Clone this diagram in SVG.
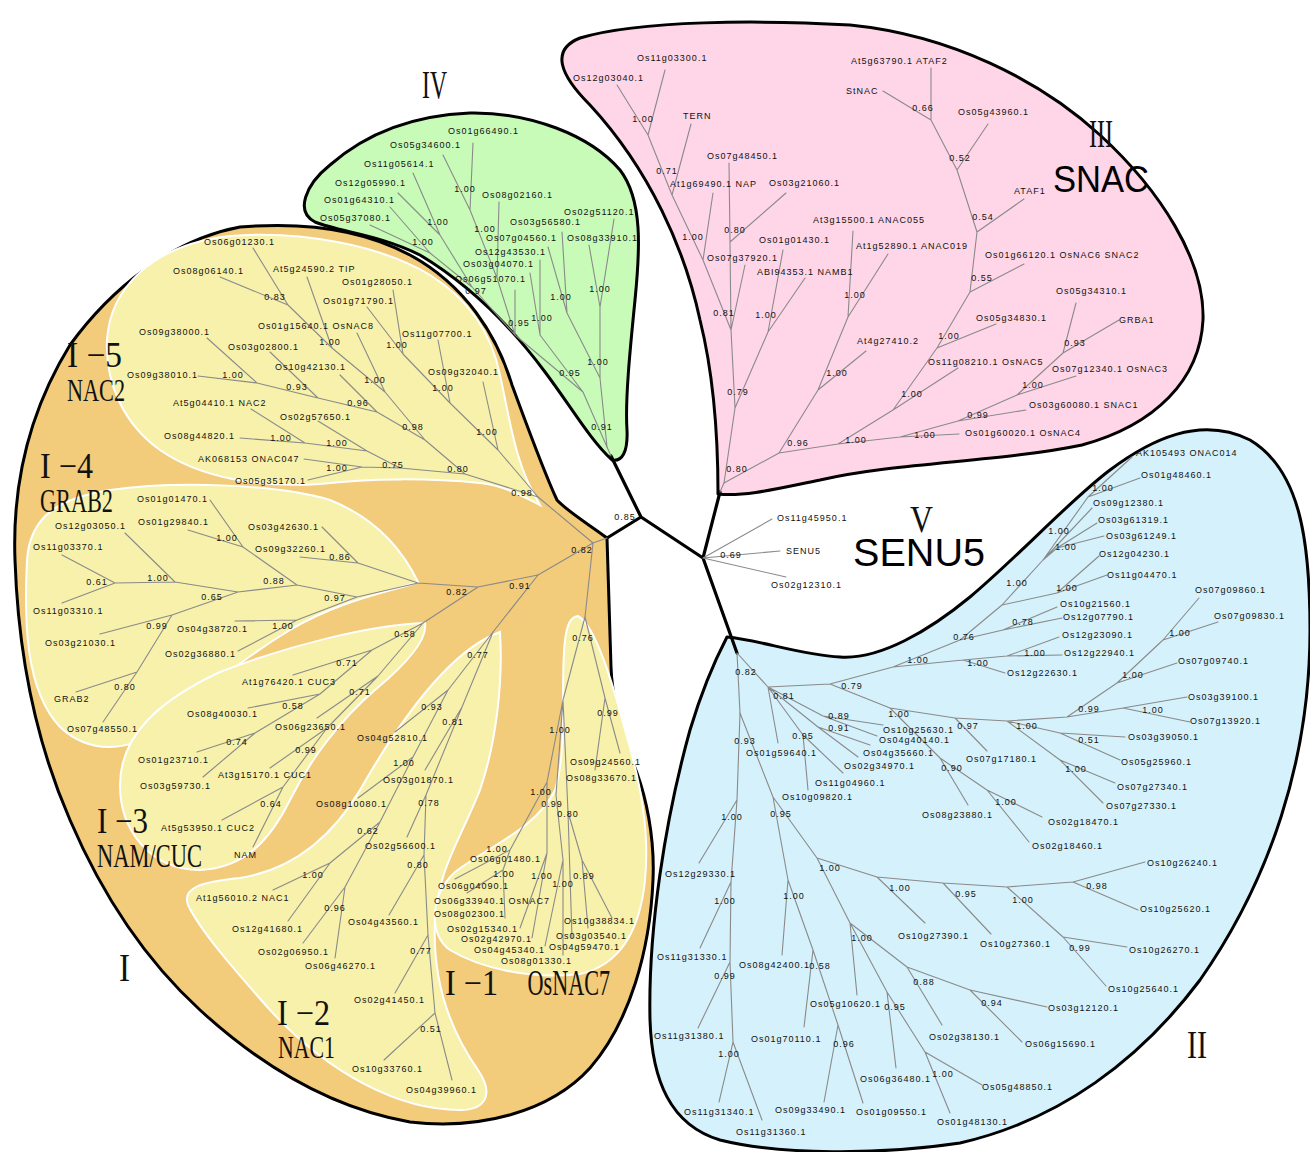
<svg xmlns="http://www.w3.org/2000/svg" width="1310" height="1152" viewBox="0 0 1310 1152">
<style>
.blob{stroke:#000;stroke-width:3;stroke-linejoin:round}
.sub{fill:#F7F1AB;stroke:#fff;stroke-width:2}
.bb{stroke:#000;stroke-width:3.2;stroke-linecap:round;fill:none}
.br{stroke:#8a8a8a;stroke-width:1.1;fill:none;stroke-linecap:round}
text{font-family:"Liberation Sans",Arial,sans-serif}
.lf{font-size:9px;letter-spacing:1px;fill:#111}
.bs{font-size:9px;letter-spacing:1px;fill:#111;text-anchor:middle}
.cl{font-family:"Liberation Serif","Times New Roman",serif;fill:#111}
.big{fill:#000}
</style>
<rect width="1310" height="1152" fill="#fff"/>
<g id="regions">
<path id="region-I" class="blob" fill="#F2CB7B" d="M607,538 C590,525 568,512 557,500 C543,470 525,420 512,385 C497,335 465,285 410,255 C360,228 300,222 240,227 C170,240 110,290 70,345 C30,410 12,480 15,560 C18,650 35,740 70,820 C100,890 140,955 200,1010 C260,1065 330,1108 410,1122 C480,1130 550,1112 590,1068 C630,1022 650,950 653,880 C655,835 645,795 637,773 C622,735 612,700 611,667 Z"/>
<path id="region-I-5" class="sub" d="M540,505 C520,495 505,486 480,483 C430,478 370,478 320,484 C260,488 200,478 160,450 C125,425 105,385 107,340 C110,290 150,245 230,236 C300,230 380,245 430,275 C470,300 492,335 500,375 C510,420 515,465 540,505 Z"/>
<path id="region-I-4" class="sub" d="M418,582 C405,555 380,520 330,500 C280,485 180,480 110,490 C60,498 30,515 27,560 C24,620 25,690 60,727 C90,755 130,752 160,728 C200,695 240,660 290,630 C340,600 390,592 418,582 Z"/>
<path id="region-I-3" class="sub" d="M425,623 C428,640 405,665 375,690 C340,720 310,760 290,800 C270,840 245,868 200,870 C150,870 120,830 120,785 C120,735 160,700 220,672 C290,645 370,625 425,623 Z"/>
<path id="region-I-2" class="sub" d="M500,632 C503,680 497,740 480,790 C460,840 438,870 435,920 C432,980 450,1030 478,1070 C495,1095 485,1110 460,1110 C400,1110 330,1075 270,1010 C230,965 200,930 188,905 C182,888 200,882 240,878 C290,870 330,840 360,790 C400,720 450,650 500,632 Z"/>
<path id="region-I-1" class="sub" d="M578,616 C595,625 612,680 625,730 C640,780 650,830 645,880 C640,930 620,965 580,974 C530,980 480,968 450,950 C428,935 430,895 455,872 C490,845 535,830 555,790 C568,750 560,680 565,640 C567,625 570,617 578,616 Z"/>
<path id="region-IV" class="blob" fill="#C8FBB8" d="M612,460 C590,440 570,405 545,372 C510,325 470,285 420,255 C380,235 340,232 315,222 C295,212 305,185 330,165 C370,130 420,115 470,113 C530,112 590,135 620,170 C643,200 640,250 635,300 C630,350 625,400 627,430 C628,452 622,462 612,460 Z"/>
<path id="region-III" class="blob" fill="#FFD6E7" d="M718,494 C718,440 715,380 700,320 C685,250 650,170 590,105 C560,75 550,50 580,38 C640,20 760,20 850,25 C950,35 1040,80 1100,135 C1160,190 1205,260 1203,320 C1200,380 1155,425 1082,445 C1000,462 900,462 820,480 C780,488 745,497 718,494 Z"/>
<path id="region-II" class="blob" fill="#D5F1FB" d="M727,637 C760,640 800,655 840,657 C880,660 930,630 970,597 C1020,555 1070,500 1110,470 C1150,440 1200,415 1250,440 C1300,470 1310,540 1310,630 C1310,760 1270,880 1200,980 C1140,1060 1060,1120 960,1143 C880,1155 780,1155 720,1140 C670,1125 652,1080 650,1020 C648,930 665,820 690,730 C702,690 715,660 727,637 Z"/>
</g>
<g id="connectors">
<path class="bb" d="M641,517L607,538M641,517L611,456M641,517L703,558M703,558L720,492M703,558L737,653"/>
<path class="br" d="M607,538L593,543M611,456L607,447M720,492L724,483M593,543L538,497M593,543L538,575M593,543L585,617"/>
<path class="br" d="M538,497L498,450M498,450L450,403M498,450L483,382M450,403L403,354M450,403L438,340M403,354L393,290M403,354L367,307M538,497L465,474M465,474L425,440M465,474L400,468M425,440L385,392M425,440L377,412M385,392L332,348M385,392L357,333M332,348L288,305M332,348L307,277M288,305L253,248M288,305L220,277M377,412L318,398M377,412L340,375M318,398L257,383M318,398L270,352M257,383L207,338M257,383L198,376M400,468L367,451M400,468L362,467M367,451L305,443M367,451L318,421M305,443L251,409M305,443L240,438M362,467L304,459M362,467L308,480"/>
<path class="br" d="M538,575L478,587M538,575L493,632M478,587L418,583M478,587L423,623M418,583L358,563M418,583L357,597M358,563L322,527M358,563L300,557M357,597L297,585M357,597L297,620M297,585L243,547M297,585L238,592M243,547L210,500M243,547L188,530M238,592L175,582M238,592L172,615M175,582L125,533M175,582L115,583M115,583L62,555M115,583L62,603M172,615L100,634M172,615L137,672M137,672L76,692M137,672L103,722M297,620L235,621M297,620L238,651"/>
<path class="br" d="M423,623L372,650M423,623L378,676M372,650L293,675M372,650L320,694M320,694L248,708M320,694L255,733M255,733L197,752M255,733L203,777M378,676L317,718M378,676L327,728M327,728L270,768M327,728L283,787M283,787L222,820M283,787L253,847"/>
<path class="br" d="M493,632L448,690M493,632L462,707M448,690L395,732M448,690L413,757M413,757L358,798M413,757L380,822M380,822L330,863M380,822L345,887M330,863L273,890M330,863L288,921M345,887L303,943M345,887L335,958M462,707L425,770M462,707L426,795M426,795L407,837M426,795L424,855M424,855L389,915M424,855L428,935M428,935L395,993M428,935L435,1013M435,1013L384,1060M435,1013L452,1080"/>
<path class="br" d="M585,617L563,700M585,617L605,698M605,698L620,753M605,698L595,770M563,700L547,782M547,782L510,850M510,850L455,879M510,850L503,870M503,870L467,893M503,870L505,918M547,782L547,853M547,853L520,928M547,853L532,938M563,700L556,795M556,795L563,860M563,860L545,946M563,860L563,955M563,700L568,812M568,812L582,860M582,860L588,928M582,860L612,918M568,812L572,938"/>
<path class="br" d="M607,447L600,378M607,447L583,392M600,378L600,307M600,378L567,313M600,307L589,245M600,307L614,219M567,313L548,247M567,313L562,232M583,392L540,335M583,392L515,335M540,335L540,260M540,335L530,273M515,335L472,287M515,335L497,278M515,335L515,290M472,287L440,235M472,287L430,253M497,278L470,210M497,278L499,202M470,210L473,143M470,210L443,155M440,235L413,173M440,235L398,193M430,253L390,207M430,253L370,225"/>
<path class="br" d="M724,483L735,408M724,483L779,453M735,408L731,330M735,408L768,332M731,330L703,260M731,330L730,242M731,330L745,265M703,260L672,195M703,260L713,193M672,195L648,135M672,195L691,124M648,135L665,70M648,135L617,85M730,242L729,163M730,242L786,193M768,332L783,250M768,332L805,278M779,453L818,390M779,453L838,444M818,390L866,351M818,390L848,317M848,317L853,231M848,317L888,254M838,444L893,410M838,444L900,437M893,410L958,368M893,410L937,348M937,348L996,324M937,348L970,292M970,292L1024,264M970,292L977,232M977,232L1024,199M977,232L957,170M957,170L988,124M957,170L931,120M931,120L931,68M931,120L883,91M900,437L959,434M900,437L958,421M958,421L1026,410M958,421L1017,395M1017,395L1076,376M1017,395L1063,353M1063,353L1076,303M1063,353L1119,320"/>
<path class="br" d="M703,558L772,519M703,558L780,551M703,558L786,577"/>
<path class="br" d="M737,653L768,687M737,653L740,713M768,687L830,684M768,687L778,743M768,687L823,716M768,687L818,727M768,687L803,735M823,716L883,725M823,716L877,736M818,727L870,745M818,727L858,757M803,735L843,773M803,735L808,790M830,684L893,667M830,684L890,708M893,667L963,660M893,667L960,640M963,660L1005,673M963,660L1007,656M1007,656L1062,655M1007,656L1059,637M960,640L1003,630M960,640L1002,605M1003,630L1057,607M1003,630L1062,618M1002,605L1043,560M1002,605L1057,593M1043,560L1088,497M1043,560L1057,548M1043,560L1092,508M1088,497L1132,457M1088,497L1140,478M1057,548L1104,536M1057,548L1097,523M1057,593L1099,556M1057,593L1107,575M890,708L955,718M890,708L940,758M955,718L987,751M955,718L1007,721M1007,721L1060,733M1007,721L1060,760M1007,721L1067,717M1060,733L1125,737M1060,733L1120,760M1060,760L1115,783M1060,760L1103,803M1067,717L1123,708M1067,717L1117,683M1123,708L1187,697M1123,708L1190,722M1117,683L1177,663M1117,683L1163,640M1163,640L1199,598M1163,640L1218,622M940,758L968,805M940,758L987,790M987,790L1042,817M987,790L1029,842"/>
<path class="br" d="M740,713L737,800M740,713L773,797M737,800L699,863M737,800L731,882M731,882L700,948M731,882L730,962M730,962L698,1028M730,962L733,1042M733,1042L719,1102M733,1042L762,1120M773,797L788,880M773,797L817,858M788,880L782,955M788,880L813,950M813,950L804,1027M813,950L838,1025M838,1025L824,1102M838,1025L863,1103M817,858L877,877M817,858L850,923M877,877L925,923M877,877L943,883M943,883L991,934M943,883L1007,887M1007,887L1073,882M1007,887L1063,937M1073,882L1145,862M1073,882L1138,910M1063,937L1106,986M1063,937L1127,947M850,923L857,995M850,923L887,992M850,923L907,967M907,967L942,1025M907,967L970,990M970,990L1047,1007M970,990L1022,1042M887,992L896,1068M887,992L925,1052M925,1052L982,1085M925,1052L950,1113"/>
</g>
<g id="clade-labels">
<text class="cl" x="422" y="98" font-size="39" textLength="25" lengthAdjust="spacingAndGlyphs">IV</text>
<text class="cl" x="1089" y="147" font-size="39" textLength="24" lengthAdjust="spacingAndGlyphs">III</text>
<text class="big" x="1053" y="192" font-size="36" textLength="96" lengthAdjust="spacingAndGlyphs">SNAC</text>
<text class="cl" x="910" y="532" font-size="38" textLength="23" lengthAdjust="spacingAndGlyphs">V</text>
<text class="big" x="853" y="566" font-size="39" textLength="132" lengthAdjust="spacingAndGlyphs">SENU5</text>
<text class="cl" x="1187" y="1058" font-size="40" textLength="20" lengthAdjust="spacingAndGlyphs">II</text>
<text class="cl" x="119" y="981" font-size="40" textLength="11" lengthAdjust="spacingAndGlyphs">I</text>
<text class="cl" x="67" y="367" font-size="36" textLength="55" lengthAdjust="spacingAndGlyphs">I −5</text>
<text class="cl" x="67" y="401" font-size="31" textLength="58" lengthAdjust="spacingAndGlyphs">NAC2</text>
<text class="cl" x="40" y="478" font-size="36" textLength="53" lengthAdjust="spacingAndGlyphs">I −4</text>
<text class="cl" x="40" y="512" font-size="33" textLength="73" lengthAdjust="spacingAndGlyphs">GRAB2</text>
<text class="cl" x="97" y="833" font-size="36" textLength="51" lengthAdjust="spacingAndGlyphs">I −3</text>
<text class="cl" x="97" y="867" font-size="34" textLength="105" lengthAdjust="spacingAndGlyphs">NAM/CUC</text>
<text class="cl" x="277" y="1025" font-size="36" textLength="53" lengthAdjust="spacingAndGlyphs">I −2</text>
<text class="cl" x="278" y="1058" font-size="32" textLength="57" lengthAdjust="spacingAndGlyphs">NAC1</text>
<text class="cl" y="995" font-size="35"><tspan x="445" textLength="53" lengthAdjust="spacingAndGlyphs">I −1</tspan><tspan x="522" textLength="88" lengthAdjust="spacingAndGlyphs"> OsNAC7</tspan></text>
</g>
<g id="support-values">
<text class="bs" x="625" y="520">0.85</text><text class="bs" x="582" y="553">0.82</text><text class="bs" x="731" y="558">0.69</text>
<text class="bs" x="275" y="300">0.83</text><text class="bs" x="330" y="345">1.00</text><text class="bs" x="375" y="383">1.00</text><text class="bs" x="397" y="348">1.00</text><text class="bs" x="443" y="391">1.00</text><text class="bs" x="487" y="435">1.00</text><text class="bs" x="413" y="430">0.98</text><text class="bs" x="358" y="406">0.96</text><text class="bs" x="297" y="390">0.93</text><text class="bs" x="233" y="378">1.00</text><text class="bs" x="337" y="446">1.00</text><text class="bs" x="281" y="441">1.00</text><text class="bs" x="337" y="471">1.00</text><text class="bs" x="393" y="468">0.75</text><text class="bs" x="458" y="472">0.80</text><text class="bs" x="522" y="496">0.98</text>
<text class="bs" x="227" y="541">1.00</text><text class="bs" x="97" y="585">0.61</text><text class="bs" x="158" y="581">1.00</text><text class="bs" x="212" y="600">0.65</text><text class="bs" x="157" y="629">0.99</text><text class="bs" x="125" y="690">0.80</text><text class="bs" x="274" y="584">0.88</text><text class="bs" x="283" y="629">1.00</text><text class="bs" x="340" y="560">0.86</text><text class="bs" x="335" y="601">0.97</text><text class="bs" x="457" y="595">0.82</text><text class="bs" x="520" y="589">0.91</text>
<text class="bs" x="405" y="637">0.58</text><text class="bs" x="347" y="666">0.71</text><text class="bs" x="360" y="695">0.71</text><text class="bs" x="293" y="709">0.58</text><text class="bs" x="237" y="745">0.74</text><text class="bs" x="306" y="753">0.99</text><text class="bs" x="271" y="807">0.64</text>
<text class="bs" x="478" y="658">0.77</text><text class="bs" x="432" y="710">0.93</text><text class="bs" x="453" y="725">0.81</text><text class="bs" x="404" y="766">1.00</text><text class="bs" x="429" y="806">0.78</text><text class="bs" x="368" y="834">0.62</text><text class="bs" x="418" y="868">0.80</text><text class="bs" x="313" y="878">1.00</text><text class="bs" x="335" y="911">0.96</text><text class="bs" x="421" y="954">0.77</text><text class="bs" x="431" y="1032">0.51</text>
<text class="bs" x="583" y="641">0.76</text><text class="bs" x="608" y="716">0.99</text><text class="bs" x="560" y="733">1.00</text><text class="bs" x="541" y="795">1.00</text><text class="bs" x="552" y="807">0.99</text><text class="bs" x="568" y="817">0.80</text><text class="bs" x="497" y="852">1.00</text><text class="bs" x="504" y="877">1.00</text><text class="bs" x="542" y="879">1.00</text><text class="bs" x="563" y="887">1.00</text><text class="bs" x="584" y="879">0.89</text>
<text class="bs" x="465" y="192">1.00</text><text class="bs" x="438" y="225">1.00</text><text class="bs" x="423" y="245">1.00</text><text class="bs" x="485" y="232">1.00</text><text class="bs" x="476" y="294">0.97</text><text class="bs" x="561" y="300">1.00</text><text class="bs" x="600" y="292">1.00</text><text class="bs" x="542" y="321">1.00</text><text class="bs" x="519" y="326">0.95</text><text class="bs" x="598" y="365">1.00</text><text class="bs" x="570" y="376">0.95</text><text class="bs" x="602" y="430">0.91</text>
<text class="bs" x="643" y="122">1.00</text><text class="bs" x="667" y="174">0.71</text><text class="bs" x="693" y="240">1.00</text><text class="bs" x="735" y="233">0.80</text><text class="bs" x="724" y="316">0.81</text><text class="bs" x="766" y="318">1.00</text><text class="bs" x="738" y="395">0.79</text><text class="bs" x="737" y="472">0.80</text><text class="bs" x="798" y="446">0.96</text><text class="bs" x="837" y="376">1.00</text><text class="bs" x="855" y="298">1.00</text><text class="bs" x="856" y="443">1.00</text><text class="bs" x="912" y="397">1.00</text><text class="bs" x="925" y="438">1.00</text><text class="bs" x="949" y="339">1.00</text><text class="bs" x="978" y="418">0.99</text><text class="bs" x="1033" y="388">1.00</text><text class="bs" x="1075" y="346">0.93</text><text class="bs" x="982" y="281">0.55</text><text class="bs" x="983" y="220">0.54</text><text class="bs" x="960" y="161">0.52</text><text class="bs" x="923" y="111">0.66</text>
<text class="bs" x="746" y="675">0.82</text><text class="bs" x="784" y="699">0.81</text><text class="bs" x="852" y="689">0.79</text><text class="bs" x="918" y="663">1.00</text><text class="bs" x="964" y="640">0.76</text><text class="bs" x="1023" y="625">0.78</text><text class="bs" x="1017" y="586">1.00</text><text class="bs" x="1066" y="550">1.00</text><text class="bs" x="1059" y="534">1.00</text><text class="bs" x="1103" y="491">1.00</text><text class="bs" x="1067" y="591">1.00</text><text class="bs" x="978" y="666">1.00</text><text class="bs" x="1035" y="656">1.00</text><text class="bs" x="968" y="729">0.97</text><text class="bs" x="899" y="717">1.00</text><text class="bs" x="839" y="719">0.89</text><text class="bs" x="839" y="731">0.91</text><text class="bs" x="803" y="739">0.95</text><text class="bs" x="745" y="744">0.93</text><text class="bs" x="952" y="771">0.90</text><text class="bs" x="1027" y="729">1.00</text><text class="bs" x="1089" y="712">0.99</text><text class="bs" x="1153" y="713">1.00</text><text class="bs" x="1133" y="678">1.00</text><text class="bs" x="1180" y="636">1.00</text><text class="bs" x="1089" y="743">0.51</text><text class="bs" x="1076" y="772">1.00</text><text class="bs" x="1006" y="805">1.00</text>
<text class="bs" x="732" y="820">1.00</text><text class="bs" x="781" y="817">0.95</text><text class="bs" x="830" y="871">1.00</text><text class="bs" x="900" y="891">1.00</text><text class="bs" x="966" y="897">0.95</text><text class="bs" x="1023" y="903">1.00</text><text class="bs" x="1097" y="889">0.98</text><text class="bs" x="1080" y="951">0.99</text><text class="bs" x="725" y="904">1.00</text><text class="bs" x="794" y="899">1.00</text><text class="bs" x="725" y="979">0.99</text><text class="bs" x="729" y="1057">1.00</text><text class="bs" x="820" y="969">0.58</text><text class="bs" x="862" y="941">1.00</text><text class="bs" x="924" y="985">0.88</text><text class="bs" x="895" y="1010">0.95</text><text class="bs" x="844" y="1047">0.96</text><text class="bs" x="943" y="1077">1.00</text><text class="bs" x="992" y="1006">0.94</text>
</g>
<g id="clade-I-5-leaves">
<g id="Os06g01230_1"><text class="lf" x="204" y="245">Os06g01230.1</text></g>
<g id="Os08g06140_1"><text class="lf" x="173" y="274">Os08g06140.1</text></g>
<g id="At5g24590_2"><text class="lf" x="273" y="272">At5g24590.2 TIP</text></g>
<g id="Os01g28050_1"><text class="lf" x="342" y="285">Os01g28050.1</text></g>
<g id="Os01g71790_1"><text class="lf" x="323" y="304">Os01g71790.1</text></g>
<g id="Os01g15640_1"><text class="lf" x="258" y="329">Os01g15640.1 OsNAC8</text></g>
<g id="Os11g07700_1"><text class="lf" x="402" y="337">Os11g07700.1</text></g>
<g id="Os09g38000_1"><text class="lf" x="139" y="335">Os09g38000.1</text></g>
<g id="Os03g02800_1"><text class="lf" x="228" y="350">Os03g02800.1</text></g>
<g id="Os10g42130_1"><text class="lf" x="275" y="370">Os10g42130.1</text></g>
<g id="Os09g38010_1"><text class="lf" x="127" y="378">Os09g38010.1</text></g>
<g id="Os09g32040_1"><text class="lf" x="428" y="375">Os09g32040.1</text></g>
<g id="At5g04410_1"><text class="lf" x="173" y="406">At5g04410.1 NAC2</text></g>
<g id="Os02g57650_1"><text class="lf" x="280" y="420">Os02g57650.1</text></g>
<g id="Os08g44820_1"><text class="lf" x="164" y="439">Os08g44820.1</text></g>
<g id="AK068153"><text class="lf" x="198" y="462">AK068153 ONAC047</text></g>
<g id="Os05g35170_1"><text class="lf" x="235" y="484">Os05g35170.1</text></g>
</g>
<g id="clade-I-4-leaves">
<g id="Os01g01470_1"><text class="lf" x="137" y="502">Os01g01470.1</text></g>
<g id="Os01g29840_1"><text class="lf" x="138" y="525">Os01g29840.1</text></g>
<g id="Os12g03050_1"><text class="lf" x="55" y="529">Os12g03050.1</text></g>
<g id="Os11g03370_1"><text class="lf" x="33" y="550">Os11g03370.1</text></g>
<g id="Os03g42630_1"><text class="lf" x="248" y="530">Os03g42630.1</text></g>
<g id="Os09g32260_1"><text class="lf" x="255" y="552">Os09g32260.1</text></g>
<g id="Os11g03310_1"><text class="lf" x="33" y="614">Os11g03310.1</text></g>
<g id="Os03g21030_1"><text class="lf" x="45" y="646">Os03g21030.1</text></g>
<g id="Os04g38720_1"><text class="lf" x="177" y="632">Os04g38720.1</text></g>
<g id="Os02g36880_1"><text class="lf" x="165" y="657">Os02g36880.1</text></g>
<g id="GRAB2"><text class="lf" x="54" y="702">GRAB2</text></g>
<g id="Os07g48550_1"><text class="lf" x="67" y="732">Os07g48550.1</text></g>
</g>
<g id="clade-I-3-leaves">
<g id="At1g76420_1"><text class="lf" x="242" y="685">At1g76420.1 CUC3</text></g>
<g id="Os08g40030_1"><text class="lf" x="187" y="717">Os08g40030.1</text></g>
<g id="Os06g23650_1"><text class="lf" x="275" y="730">Os06g23650.1</text></g>
<g id="Os01g23710_1"><text class="lf" x="138" y="763">Os01g23710.1</text></g>
<g id="Os03g59730_1"><text class="lf" x="140" y="789">Os03g59730.1</text></g>
<g id="At3g15170_1"><text class="lf" x="218" y="778">At3g15170.1 CUC1</text></g>
<g id="At5g53950_1"><text class="lf" x="161" y="831">At5g53950.1 CUC2</text></g>
<g id="NAM"><text class="lf" x="234" y="858">NAM</text></g>
</g>
<g id="clade-I-2-leaves">
<g id="Os04g52810_1"><text class="lf" x="357" y="741">Os04g52810.1</text></g>
<g id="Os03g01870_1"><text class="lf" x="383" y="783">Os03g01870.1</text></g>
<g id="Os08g10080_1"><text class="lf" x="316" y="807">Os08g10080.1</text></g>
<g id="Os02g56600_1"><text class="lf" x="365" y="849">Os02g56600.1</text></g>
<g id="At1g56010_2"><text class="lf" x="196" y="901">At1g56010.2 NAC1</text></g>
<g id="Os12g41680_1"><text class="lf" x="232" y="932">Os12g41680.1</text></g>
<g id="Os02g06950_1"><text class="lf" x="258" y="955">Os02g06950.1</text></g>
<g id="Os06g46270_1"><text class="lf" x="305" y="969">Os06g46270.1</text></g>
<g id="Os04g43560_1"><text class="lf" x="348" y="925">Os04g43560.1</text></g>
<g id="Os02g41450_1"><text class="lf" x="354" y="1003">Os02g41450.1</text></g>
<g id="Os10g33760_1"><text class="lf" x="352" y="1072">Os10g33760.1</text></g>
<g id="Os04g39960_1"><text class="lf" x="406" y="1093">Os04g39960.1</text></g>
</g>
<g id="clade-I-1-leaves">
<g id="Os06g01480_1"><text class="lf" x="470" y="862">Os06g01480.1</text></g>
<g id="Os06g04090_1"><text class="lf" x="438" y="889">Os06g04090.1</text></g>
<g id="Os06g33940_1"><text class="lf" x="434" y="904">Os06g33940.1 OsNAC7</text></g>
<g id="Os08g02300_1"><text class="lf" x="434" y="917">Os08g02300.1</text></g>
<g id="Os02g15340_1"><text class="lf" x="447" y="932">Os02g15340.1</text></g>
<g id="Os02g42970_1"><text class="lf" x="461" y="942">Os02g42970.1</text></g>
<g id="Os04g45340_1"><text class="lf" x="474" y="953">Os04g45340.1</text></g>
<g id="Os08g01330_1"><text class="lf" x="501" y="964">Os08g01330.1</text></g>
<g id="Os04g59470_1"><text class="lf" x="549" y="950">Os04g59470.1</text></g>
<g id="Os03g03540_1"><text class="lf" x="556" y="939">Os03g03540.1</text></g>
<g id="Os10g38834_1"><text class="lf" x="564" y="924">Os10g38834.1</text></g>
<g id="Os09g24560_1"><text class="lf" x="570" y="765">Os09g24560.1</text></g>
<g id="Os08g33670_1"><text class="lf" x="566" y="781">Os08g33670.1</text></g>
</g>
<g id="clade-IV-leaves">
<g id="Os01g66490_1"><text class="lf" x="448" y="134">Os01g66490.1</text></g>
<g id="Os05g34600_1"><text class="lf" x="390" y="148">Os05g34600.1</text></g>
<g id="Os11g05614_1"><text class="lf" x="364" y="167">Os11g05614.1</text></g>
<g id="Os12g05990_1"><text class="lf" x="335" y="186">Os12g05990.1</text></g>
<g id="Os01g64310_1"><text class="lf" x="324" y="203">Os01g64310.1</text></g>
<g id="Os05g37080_1"><text class="lf" x="320" y="221">Os05g37080.1</text></g>
<g id="Os08g02160_1"><text class="lf" x="482" y="198">Os08g02160.1</text></g>
<g id="Os02g51120_1"><text class="lf" x="564" y="215">Os02g51120.1</text></g>
<g id="Os03g56580_1"><text class="lf" x="510" y="225">Os03g56580.1</text></g>
<g id="Os07g04560_1"><text class="lf" x="486" y="241">Os07g04560.1</text></g>
<g id="Os08g33910_1"><text class="lf" x="567" y="241">Os08g33910.1</text></g>
<g id="Os12g43530_1"><text class="lf" x="475" y="255">Os12g43530.1</text></g>
<g id="Os03g04070_1"><text class="lf" x="463" y="267">Os03g04070.1</text></g>
<g id="Os06g51070_1"><text class="lf" x="455" y="282">Os06g51070.1</text></g>
</g>
<g id="clade-III-leaves">
<g id="Os11g03300_1"><text class="lf" x="637" y="61">Os11g03300.1</text></g>
<g id="Os12g03040_1"><text class="lf" x="573" y="81">Os12g03040.1</text></g>
<g id="TERN"><text class="lf" x="683" y="119">TERN</text></g>
<g id="Os07g48450_1"><text class="lf" x="707" y="159">Os07g48450.1</text></g>
<g id="At1g69490_1"><text class="lf" x="670" y="187">At1g69490.1 NAP</text></g>
<g id="Os03g21060_1"><text class="lf" x="769" y="186">Os03g21060.1</text></g>
<g id="Os07g37920_1"><text class="lf" x="707" y="261">Os07g37920.1</text></g>
<g id="Os01g01430_1"><text class="lf" x="759" y="243">Os01g01430.1</text></g>
<g id="ABI94353_1"><text class="lf" x="757" y="275">ABI94353.1 NAMB1</text></g>
<g id="At3g15500_1"><text class="lf" x="813" y="223">At3g15500.1 ANAC055</text></g>
<g id="At1g52890_1"><text class="lf" x="856" y="249">At1g52890.1 ANAC019</text></g>
<g id="At4g27410_2"><text class="lf" x="857" y="344">At4g27410.2</text></g>
<g id="At5g63790_1"><text class="lf" x="851" y="64">At5g63790.1 ATAF2</text></g>
<g id="StNAC"><text class="lf" x="846" y="94">StNAC</text></g>
<g id="Os05g43960_1"><text class="lf" x="958" y="115">Os05g43960.1</text></g>
<g id="ATAF1"><text class="lf" x="1014" y="194">ATAF1</text></g>
<g id="Os01g66120_1"><text class="lf" x="985" y="258">Os01g66120.1 OsNAC6 SNAC2</text></g>
<g id="Os05g34310_1"><text class="lf" x="1056" y="294">Os05g34310.1</text></g>
<g id="GRBA1"><text class="lf" x="1119" y="323">GRBA1</text></g>
<g id="Os05g34830_1"><text class="lf" x="976" y="321">Os05g34830.1</text></g>
<g id="Os11g08210_1"><text class="lf" x="928" y="365">Os11g08210.1 OsNAC5</text></g>
<g id="Os07g12340_1"><text class="lf" x="1052" y="372">Os07g12340.1 OsNAC3</text></g>
<g id="Os03g60080_1"><text class="lf" x="1029" y="408">Os03g60080.1 SNAC1</text></g>
<g id="Os01g60020_1"><text class="lf" x="965" y="436">Os01g60020.1 OsNAC4</text></g>
</g>
<g id="clade-V-leaves">
<g id="Os11g45950_1"><text class="lf" x="777" y="521">Os11g45950.1</text></g>
<g id="SENU5"><text class="lf" x="786" y="554">SENU5</text></g>
<g id="Os02g12310_1"><text class="lf" x="771" y="588">Os02g12310.1</text></g>
</g>
<g id="clade-II-leaves">
<g id="AK105493"><text class="lf" x="1136" y="456">AK105493 ONAC014</text></g>
<g id="Os01g48460_1"><text class="lf" x="1141" y="478">Os01g48460.1</text></g>
<g id="Os09g12380_1"><text class="lf" x="1093" y="506">Os09g12380.1</text></g>
<g id="Os03g61319_1"><text class="lf" x="1098" y="523">Os03g61319.1</text></g>
<g id="Os03g61249_1"><text class="lf" x="1106" y="539">Os03g61249.1</text></g>
<g id="Os12g04230_1"><text class="lf" x="1099" y="557">Os12g04230.1</text></g>
<g id="Os11g04470_1"><text class="lf" x="1107" y="578">Os11g04470.1</text></g>
<g id="Os10g21560_1"><text class="lf" x="1060" y="607">Os10g21560.1</text></g>
<g id="Os12g07790_1"><text class="lf" x="1063" y="620">Os12g07790.1</text></g>
<g id="Os12g23090_1"><text class="lf" x="1062" y="638">Os12g23090.1</text></g>
<g id="Os12g22940_1"><text class="lf" x="1064" y="656">Os12g22940.1</text></g>
<g id="Os12g22630_1"><text class="lf" x="1007" y="676">Os12g22630.1</text></g>
<g id="Os07g09860_1"><text class="lf" x="1195" y="593">Os07g09860.1</text></g>
<g id="Os07g09830_1"><text class="lf" x="1214" y="619">Os07g09830.1</text></g>
<g id="Os07g09740_1"><text class="lf" x="1178" y="664">Os07g09740.1</text></g>
<g id="Os03g39100_1"><text class="lf" x="1188" y="700">Os03g39100.1</text></g>
<g id="Os07g13920_1"><text class="lf" x="1190" y="724">Os07g13920.1</text></g>
<g id="Os03g39050_1"><text class="lf" x="1128" y="740">Os03g39050.1</text></g>
<g id="Os05g25960_1"><text class="lf" x="1121" y="765">Os05g25960.1</text></g>
<g id="Os07g27340_1"><text class="lf" x="1117" y="790">Os07g27340.1</text></g>
<g id="Os07g27330_1"><text class="lf" x="1106" y="809">Os07g27330.1</text></g>
<g id="Os02g18470_1"><text class="lf" x="1048" y="825">Os02g18470.1</text></g>
<g id="Os02g18460_1"><text class="lf" x="1032" y="849">Os02g18460.1</text></g>
<g id="Os07g17180_1"><text class="lf" x="966" y="762">Os07g17180.1</text></g>
<g id="Os08g23880_1"><text class="lf" x="922" y="818">Os08g23880.1</text></g>
<g id="Os10g25630_1"><text class="lf" x="883" y="733">Os10g25630.1</text></g>
<g id="Os04g40140_1"><text class="lf" x="879" y="743">Os04g40140.1</text></g>
<g id="Os04g35660_1"><text class="lf" x="863" y="756">Os04g35660.1</text></g>
<g id="Os02g34970_1"><text class="lf" x="844" y="769">Os02g34970.1</text></g>
<g id="Os01g59640_1"><text class="lf" x="746" y="756">Os01g59640.1</text></g>
<g id="Os11g04960_1"><text class="lf" x="815" y="786">Os11g04960.1</text></g>
<g id="Os10g09820_1"><text class="lf" x="782" y="800">Os10g09820.1</text></g>
<g id="Os12g29330_1"><text class="lf" x="665" y="877">Os12g29330.1</text></g>
<g id="Os11g31330_1"><text class="lf" x="657" y="960">Os11g31330.1</text></g>
<g id="Os11g31380_1"><text class="lf" x="654" y="1039">Os11g31380.1</text></g>
<g id="Os11g31340_1"><text class="lf" x="684" y="1115">Os11g31340.1</text></g>
<g id="Os11g31360_1"><text class="lf" x="736" y="1135">Os11g31360.1</text></g>
<g id="Os08g42400_1"><text class="lf" x="739" y="968">Os08g42400.1</text></g>
<g id="Os01g70110_1"><text class="lf" x="751" y="1042">Os01g70110.1</text></g>
<g id="Os05g10620_1"><text class="lf" x="810" y="1007">Os05g10620.1</text></g>
<g id="Os09g33490_1"><text class="lf" x="775" y="1113">Os09g33490.1</text></g>
<g id="Os01g09550_1"><text class="lf" x="856" y="1115">Os01g09550.1</text></g>
<g id="Os06g36480_1"><text class="lf" x="860" y="1082">Os06g36480.1</text></g>
<g id="Os10g27390_1"><text class="lf" x="898" y="939">Os10g27390.1</text></g>
<g id="Os02g38130_1"><text class="lf" x="929" y="1040">Os02g38130.1</text></g>
<g id="Os01g48130_1"><text class="lf" x="937" y="1125">Os01g48130.1</text></g>
<g id="Os10g26240_1"><text class="lf" x="1147" y="866">Os10g26240.1</text></g>
<g id="Os10g25620_1"><text class="lf" x="1140" y="912">Os10g25620.1</text></g>
<g id="Os10g27360_1"><text class="lf" x="980" y="947">Os10g27360.1</text></g>
<g id="Os10g26270_1"><text class="lf" x="1129" y="953">Os10g26270.1</text></g>
<g id="Os10g25640_1"><text class="lf" x="1108" y="992">Os10g25640.1</text></g>
<g id="Os03g12120_1"><text class="lf" x="1048" y="1011">Os03g12120.1</text></g>
<g id="Os06g15690_1"><text class="lf" x="1025" y="1047">Os06g15690.1</text></g>
<g id="Os05g48850_1"><text class="lf" x="982" y="1090">Os05g48850.1</text></g>
</g>
</svg>
